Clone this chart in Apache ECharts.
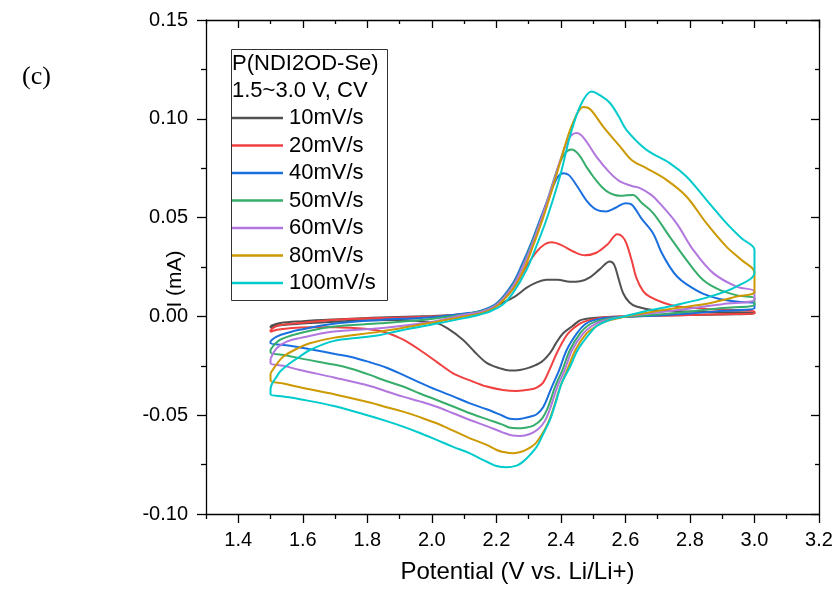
<!DOCTYPE html>
<html>
<head>
<meta charset="utf-8">
<script src="https://cdn.jsdelivr.net/npm/echarts@6/dist/echarts.min.js"></script>
<style>
html,body{margin:0;padding:0;background:#fff;}
#chart{width:839px;height:598px;}
</style>
</head>
<body>
<div id="chart"></div>
<script>
const seriesNames = ['10mV/s','20mV/s','40mV/s','50mV/s','60mV/s','80mV/s','100mV/s'];
const seriesColors = ['#515151','#F14040','#1A6FDF','#37AD6B','#B177DE','#CC9900','#00CBCC'];
const xMajorTicks = [1.4,1.6,1.8,2.0,2.2,2.4,2.6,2.8,3.0,3.2];
const xMinorTicks = [1.3,1.5,1.7,1.9,2.1,2.3,2.5,2.7,2.9,3.1];
const yTickLabels = ['-0.10','-0.05','0.00','0.05','0.10','0.15'];

const cv10 = [[1.5,-0.0048],[1.53,-0.0033],[1.6,-0.0024],[1.69,-0.0016],[1.84,-0.0005],[2.0,0.0002],[2.08,0.0008],[2.15,0.0025],[2.2,0.0055],[2.257,0.010],[2.293,0.0144],[2.325,0.0172],[2.355,0.0185],[2.39,0.0186],[2.428,0.0175],[2.46,0.0178],[2.49,0.0198],[2.52,0.0238],[2.552,0.0278],[2.565,0.0262],[2.578,0.0195],[2.593,0.0117],[2.612,0.0072],[2.634,0.005],[2.686,0.0033],[2.8,0.0025],[2.9,0.0021],[3.0,0.0019],
[3.0,0.0013],[2.9,0.001],[2.8,0.0007],[2.7,0.0004],[2.6,0.0],[2.52,-0.0005],[2.48,-0.0012],[2.459,-0.002],[2.435,-0.005],[2.407,-0.0085],[2.385,-0.0135],[2.366,-0.0186],[2.34,-0.023],[2.304,-0.0258],[2.273,-0.0271],[2.242,-0.0274],[2.21,-0.0262],[2.17,-0.0235],[2.13,-0.0175],[2.097,-0.0119],[2.05,-0.0062],[2.015,-0.0034],[1.95,-0.0022],[1.9,-0.0018],[1.8,-0.002],[1.7,-0.0027],[1.6,-0.0036],[1.53,-0.0045],[1.5,-0.0055],[1.5,-0.0048]];

const cv20 = [[1.5,-0.0068],[1.515,-0.0052],[1.53,-0.0043],[1.6,-0.0032],[1.69,-0.0018],[1.84,-0.0008],[2.0,0.0],[2.1,0.0012],[2.15,0.0025],[2.2,0.0058],[2.25,0.0135],[2.29,0.0245],[2.325,0.0328],[2.35,0.0365],[2.371,0.0375],[2.4,0.0362],[2.44,0.0327],[2.474,0.0309],[2.51,0.0322],[2.545,0.0365],[2.575,0.0416],[2.59,0.0405],[2.603,0.037],[2.62,0.028],[2.634,0.0195],[2.655,0.0128],[2.675,0.0100],[2.72,0.0068],[2.758,0.0052],[2.85,0.0038],[3.0,0.0025],
[3.0,0.0015],[2.9,0.0011],[2.8,0.0007],[2.7,0.0003],[2.6,0.0],[2.53,-0.0005],[2.49,-0.0018],[2.46,-0.0035],[2.423,-0.0085],[2.392,-0.017],[2.37,-0.025],[2.345,-0.0335],[2.325,-0.036],[2.304,-0.037],[2.263,-0.0377],[2.22,-0.0372],[2.17,-0.0355],[2.12,-0.0325],[2.066,-0.0288],[2.015,-0.023],[1.963,-0.017],[1.92,-0.0125],[1.891,-0.0102],[1.85,-0.0078],[1.8,-0.0064],[1.75,-0.0058],[1.7,-0.0055],[1.62,-0.0055],[1.56,-0.006],[1.52,-0.0068],[1.5,-0.0078],[1.5,-0.0068]];

const cv40 = [[1.5,-0.0125],[1.519,-0.0102],[1.56,-0.008],[1.59,-0.0068],[1.69,-0.0038],[1.84,-0.0018],[1.99,-0.0005],[2.1,0.0015],[2.15,0.0028],[2.2,0.0065],[2.25,0.0165],[2.28,0.0265],[2.31,0.038],[2.34,0.051],[2.37,0.0635],[2.39,0.0705],[2.407,0.0725],[2.425,0.0715],[2.45,0.066],[2.48,0.0585],[2.51,0.054],[2.541,0.0531],[2.57,0.055],[2.6,0.0573],[2.62,0.0565],[2.65,0.0495],[2.686,0.042],[2.71,0.033],[2.737,0.0252],[2.76,0.0202],[2.789,0.0163],[2.84,0.0115],[2.892,0.0088],[2.95,0.0074],[3.0,0.0065],
[3.0,0.0042],[2.9,0.0028],[2.8,0.0015],[2.7,0.0005],[2.6,-0.0002],[2.55,-0.0006],[2.5,-0.002],[2.475,-0.004],[2.45,-0.0085],[2.418,-0.017],[2.395,-0.027],[2.371,-0.036],[2.345,-0.046],[2.325,-0.0495],[2.304,-0.0508],[2.283,-0.0516],[2.263,-0.052],[2.242,-0.0518],[2.221,-0.0504],[2.17,-0.047],[2.118,-0.044],[2.066,-0.0405],[2.015,-0.0372],[1.963,-0.0335],[1.911,-0.0296],[1.86,-0.026],[1.808,-0.0232],[1.75,-0.0205],[1.7,-0.019],[1.622,-0.0166],[1.56,-0.0148],[1.5,-0.0136],[1.5,-0.0125]];

const cv50 = [[1.5,-0.0168],[1.529,-0.0119],[1.59,-0.0085],[1.69,-0.0052],[1.84,-0.0035],[1.99,-0.0015],[2.1,0.001],[2.15,0.0025],[2.2,0.006],[2.25,0.0155],[2.28,0.025],[2.31,0.037],[2.345,0.052],[2.37,0.065],[2.395,0.077],[2.415,0.083],[2.433,0.0845],[2.455,0.082],[2.48,0.0755],[2.5,0.0708],[2.53,0.065],[2.552,0.0624],[2.583,0.061],[2.623,0.0615],[2.65,0.0575],[2.686,0.0523],[2.737,0.0404],[2.789,0.0286],[2.84,0.0185],[2.892,0.0134],[2.95,0.0105],[3.0,0.0092],
[3.0,0.006],[2.9,0.0042],[2.8,0.0025],[2.7,0.001],[2.6,-0.0002],[2.56,-0.0008],[2.51,-0.0025],[2.485,-0.0045],[2.46,-0.0085],[2.428,-0.017],[2.405,-0.027],[2.381,-0.036],[2.36,-0.046],[2.34,-0.052],[2.315,-0.0553],[2.29,-0.0563],[2.263,-0.0566],[2.24,-0.0562],[2.221,-0.0549],[2.17,-0.052],[2.118,-0.049],[2.066,-0.0456],[2.015,-0.0423],[1.963,-0.039],[1.911,-0.0355],[1.85,-0.0322],[1.808,-0.0296],[1.75,-0.0265],[1.7,-0.0245],[1.6,-0.0215],[1.55,-0.0198],[1.5,-0.0183],[1.5,-0.0168]];

const cv60 = [[1.5,-0.0215],[1.519,-0.0161],[1.55,-0.0128],[1.59,-0.011],[1.69,-0.0078],[1.84,-0.006],[1.99,-0.003],[2.1,0.0008],[2.15,0.0022],[2.2,0.0058],[2.25,0.015],[2.28,0.0245],[2.31,0.036],[2.345,0.052],[2.375,0.067],[2.4,0.08],[2.425,0.09],[2.448,0.0928],[2.47,0.0905],[2.51,0.0809],[2.55,0.073],[2.583,0.0683],[2.62,0.066],[2.645,0.0649],[2.68,0.0615],[2.706,0.0573],[2.758,0.0472],[2.81,0.0337],[2.872,0.0219],[2.944,0.0151],[3.0,0.0126],
[3.0,0.0085],[2.9,0.0062],[2.8,0.004],[2.7,0.002],[2.6,0.0],[2.57,-0.0008],[2.52,-0.0028],[2.495,-0.005],[2.47,-0.0085],[2.435,-0.017],[2.412,-0.027],[2.388,-0.036],[2.368,-0.046],[2.35,-0.053],[2.33,-0.057],[2.304,-0.0595],[2.273,-0.0605],[2.25,-0.0603],[2.221,-0.0588],[2.17,-0.0555],[2.118,-0.0524],[2.066,-0.049],[2.015,-0.0457],[1.963,-0.043],[1.911,-0.0406],[1.86,-0.038],[1.808,-0.0352],[1.7,-0.031],[1.591,-0.0271],[1.54,-0.025],[1.5,-0.0237],[1.5,-0.0215]];

const cv80 = [[1.5,-0.029],[1.503,-0.028],[1.52,-0.024],[1.539,-0.0204],[1.58,-0.0165],[1.622,-0.0136],[1.69,-0.011],[1.84,-0.0077],[1.99,-0.0035],[2.1,0.0],[2.15,0.0015],[2.2,0.005],[2.25,0.0135],[2.28,0.022],[2.31,0.034],[2.345,0.05],[2.38,0.068],[2.41,0.085],[2.44,0.099],[2.469,0.106],[2.49,0.105],[2.531,0.0961],[2.583,0.086],[2.62,0.079],[2.665,0.075],[2.727,0.0691],[2.789,0.0607],[2.851,0.0472],[2.913,0.0353],[2.96,0.0285],[3.0,0.0222],
[3.0,0.0126],[2.944,0.010],[2.861,0.0067],[2.758,0.0042],[2.655,0.0016],[2.6,0.0],[2.58,-0.0008],[2.53,-0.003],[2.505,-0.0055],[2.48,-0.0085],[2.445,-0.017],[2.42,-0.027],[2.397,-0.036],[2.378,-0.046],[2.36,-0.054],[2.34,-0.06],[2.32,-0.0645],[2.3,-0.0668],[2.28,-0.0684],[2.252,-0.0693],[2.221,-0.0686],[2.201,-0.0676],[2.17,-0.065],[2.118,-0.0617],[2.066,-0.0578],[2.015,-0.0541],[1.963,-0.051],[1.911,-0.0482],[1.86,-0.046],[1.808,-0.0436],[1.7,-0.0395],[1.591,-0.0359],[1.54,-0.034],[1.5,-0.0325],[1.5,-0.029]];

const cv100 = [[1.5,-0.0365],[1.505,-0.034],[1.519,-0.0305],[1.529,-0.028],[1.56,-0.0237],[1.59,-0.0204],[1.622,-0.017],[1.694,-0.0125],[1.786,-0.0105],[1.84,-0.0094],[1.892,-0.0075],[1.994,-0.0043],[2.096,-0.001],[2.15,0.001],[2.18,0.0025],[2.22,0.006],[2.25,0.0115],[2.293,0.0235],[2.325,0.036],[2.355,0.0489],[2.397,0.0708],[2.428,0.091],[2.46,0.1065],[2.495,0.1138],[2.52,0.112],[2.552,0.108],[2.58,0.101],[2.603,0.0944],[2.665,0.0843],[2.737,0.0776],[2.789,0.0708],[2.851,0.059],[2.913,0.0472],[2.96,0.0395],[3.0,0.0337],
[3.0,0.0222],[2.944,0.0151],[2.861,0.010],[2.758,0.0058],[2.655,0.0024],[2.593,-0.0002],[2.55,-0.0018],[2.51,-0.005],[2.49,-0.0085],[2.452,-0.017],[2.43,-0.025],[2.402,-0.034],[2.385,-0.043],[2.366,-0.0524],[2.345,-0.0595],[2.325,-0.066],[2.304,-0.0701],[2.283,-0.0735],[2.263,-0.0755],[2.231,-0.0764],[2.2,-0.0757],[2.18,-0.0743],[2.15,-0.072],[2.118,-0.0693],[2.066,-0.066],[2.015,-0.0625],[1.963,-0.059],[1.911,-0.0558],[1.86,-0.053],[1.808,-0.0504],[1.7,-0.0455],[1.591,-0.0419],[1.54,-0.0405],[1.5,-0.0394],[1.5,-0.0365]];

const cvData = [cv10, cv20, cv40, cv50, cv60, cv80, cv100];

const FONT = '"Liberation Sans", Arial, sans-serif';
const chart = echarts.init(document.getElementById('chart'), null, {renderer: 'canvas'});

const axisLineStyle = {color: '#000', width: 1.3};
const baseX = {type: 'value', min: 1.3, max: 3.2, interval: 0.1, splitLine: {show: false}};
const baseY = {type: 'value', min: -0.1, max: 0.15, interval: 0.05, splitLine: {show: false}};

const option = {
  backgroundColor: '#fff',
  animation: false,
  grid: {left: 206, right: 20, top: 20, bottom: 84, containLabel: false},
  xAxis: [
    Object.assign({}, baseX, {
      position: 'bottom',
      axisLine: {show: true, lineStyle: axisLineStyle, onZero: false},
      axisTick: {show: true, customValues: xMajorTicks, length: 9, inside: false, lineStyle: axisLineStyle},
      axisLabel: {show: true, customValues: xMajorTicks, margin: 16, color: '#000', fontSize: 20, fontFamily: FONT,
        formatter: v => v.toFixed(1)},
      name: 'Potential (V vs. Li/Li+)', nameLocation: 'middle', nameGap: 46,
      nameTextStyle: {color: '#000', fontSize: 24, fontFamily: FONT, padding: [0, 0, 0, 10]}
    }),
    Object.assign({}, baseX, {
      position: 'bottom',
      axisLine: {show: false, onZero: false},
      axisTick: {show: true, customValues: xMinorTicks, length: 5, inside: false, lineStyle: axisLineStyle},
      axisLabel: {show: false}
    }),
    Object.assign({}, baseX, {
      position: 'top',
      axisLine: {show: true, lineStyle: axisLineStyle, onZero: false},
      axisTick: {show: true, customValues: xMajorTicks, length: 8, inside: true, lineStyle: axisLineStyle},
      axisLabel: {show: false}
    }),
    Object.assign({}, baseX, {
      position: 'top',
      axisLine: {show: false, onZero: false},
      axisTick: {show: true, customValues: xMinorTicks, length: 4, inside: true, lineStyle: axisLineStyle},
      axisLabel: {show: false}
    })
  ],
  yAxis: [
    Object.assign({}, baseY, {
      position: 'left',
      axisLine: {show: true, lineStyle: axisLineStyle, onZero: false},
      axisTick: {show: true, length: 9, inside: false, lineStyle: axisLineStyle},
      minorTick: {show: true, splitNumber: 2, length: 5, lineStyle: axisLineStyle},
      axisLabel: {show: true, margin: 18, color: '#000', fontSize: 20, fontFamily: FONT,
        formatter: v => {
          const s = Math.abs(v) < 1e-9 ? '0.00' : v.toFixed(2);
          return yTickLabels.indexOf(s) >= 0 ? s : '';
        }}
    }),
    Object.assign({}, baseY, {
      position: 'right',
      axisLine: {show: true, lineStyle: axisLineStyle, onZero: false},
      axisTick: {show: true, length: 8, inside: true, lineStyle: axisLineStyle},
      minorTick: {show: true, splitNumber: 2, length: 4, lineStyle: axisLineStyle},
      axisLabel: {show: false}
    })
  ],
  legend: {
    orient: 'vertical',
    left: 232, top: 107,
    padding: 0,
    icon: 'rect',
    itemWidth: 51, itemHeight: 2.5, itemGap: 5.5,
    textStyle: {color: '#000', fontSize: 22, fontFamily: FONT, lineHeight: 22, padding: [0,0,0,1]},
    data: seriesNames
  },
  graphic: [
    {type: 'rect', left: 229, top: 47, shape: {width: 156, height: 251},
      style: {fill: 'none', stroke: '#333', lineWidth: 1}, silent: true, z: 1},
    {type: 'text', x: 232, y: 64, style: {text: 'P(NDI2OD-Se)', fill: '#000', font: '22px ' + FONT, verticalAlign: 'middle'}},
    {type: 'text', x: 232, y: 91, style: {text: '1.5~3.0 V, CV', fill: '#000', font: '22px ' + FONT, verticalAlign: 'middle'}},
    {type: 'text', x: 22, y: 77, style: {text: '(c)', fill: '#000', font: '26px "Liberation Serif", "Times New Roman", serif', verticalAlign: 'middle'}},
    {type: 'text', x: 175, y: 279, rotation: Math.PI / 2,
      style: {text: 'I (mA)', fill: '#000', font: '21px ' + FONT, align: 'center', verticalAlign: 'middle'}}
  ],
  series: cvData.map((d, i) => ({
    name: seriesNames[i],
    type: 'line',
    xAxisIndex: 0, yAxisIndex: 0,
    data: d,
    showSymbol: false, symbol: 'none',
    smooth: 0.35,
    lineStyle: {color: seriesColors[i], width: 2},
    itemStyle: {color: seriesColors[i]},
    z: 2 + i
  }))
};
chart.setOption(option);
</script>
</body>
</html>
